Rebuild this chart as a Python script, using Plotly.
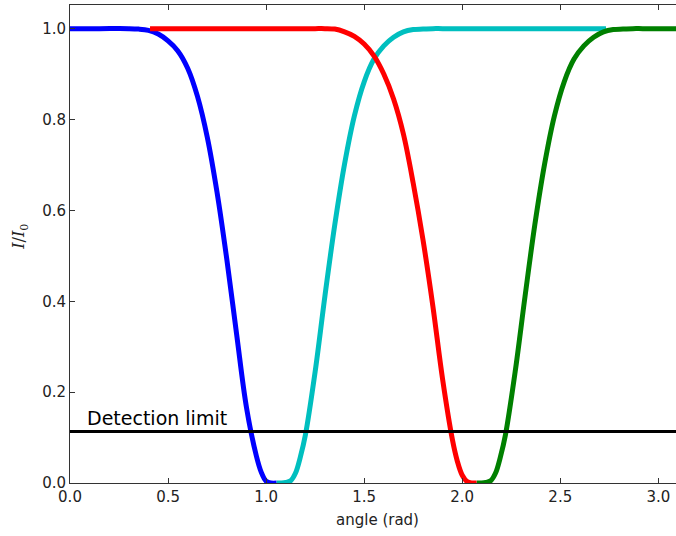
import plotly.graph_objects as go

# Transmitted intensity I/I0 versus analyser angle, four polariser settings
blue_x = [0.000, 0.150, 0.300, 0.350, 0.400, 0.450, 0.500, 0.550, 0.600, 0.650,
          0.700, 0.750, 0.800, 0.850, 0.900, 0.950, 0.975, 1.000, 1.025, 1.054]
blue_y = [1.000, 1.000, 1.000, 0.999, 0.996, 0.988, 0.973, 0.951, 0.913, 0.851,
          0.761, 0.639, 0.491, 0.326, 0.166, 0.060, 0.024, 0.004, 0.000, 0.000]

cyan_x = [1.054, 1.075, 1.100, 1.125, 1.150, 1.175, 1.200, 1.250, 1.300, 1.350,
          1.400, 1.450, 1.500, 1.550, 1.600, 1.650, 1.700, 1.750, 1.800, 1.850,
          1.900, 2.300, 2.733]
cyan_y = [0.000, 0.000, 0.001, 0.005, 0.022, 0.058, 0.105, 0.245, 0.412, 0.568,
          0.702, 0.808, 0.883, 0.933, 0.962, 0.981, 0.993, 0.998, 0.999, 1.000,
          1.000, 1.000, 1.000]

red_x = [0.408, 0.800, 1.200, 1.250, 1.300, 1.350, 1.400, 1.450, 1.500, 1.550,
         1.600, 1.650, 1.700, 1.750, 1.800, 1.850, 1.900, 1.950, 1.975, 2.000,
         2.025, 2.050, 2.074]
red_y = [1.000, 1.000, 1.000, 1.000, 1.000, 0.999, 0.993, 0.983, 0.966, 0.940,
         0.900, 0.845, 0.768, 0.660, 0.535, 0.390, 0.228, 0.095, 0.048, 0.017,
         0.003, 0.000, 0.000]

green_x = [2.074, 2.095, 2.120, 2.145, 2.170, 2.195, 2.220, 2.270, 2.320, 2.370,
           2.420, 2.470, 2.520, 2.570, 2.620, 2.670, 2.720, 2.770, 2.820, 2.870,
           2.920, 3.050, 3.1416]
green_y = [0.000, 0.000, 0.001, 0.005, 0.022, 0.058, 0.105, 0.245, 0.410, 0.568,
           0.702, 0.808, 0.883, 0.933, 0.962, 0.981, 0.993, 0.998, 0.999, 1.000,
           1.000, 1.000, 1.000]

detection_level = 0.1136
detection_x = [0.0, 3.1416]

x_ticks = [0.0, 0.5, 1.0, 1.5, 2.0, 2.5, 3.0]
y_ticks = [0.0, 0.2, 0.4, 0.6, 0.8, 1.0]

fig = go.Figure()

for xs, ys, col in [(blue_x, blue_y, "#0000ff"),
                    (cyan_x, cyan_y, "#00bfbf"),
                    (red_x, red_y, "#ff0000"),
                    (green_x, green_y, "#008000")]:
    fig.add_trace(go.Scatter(
        x=xs, y=ys, mode="lines",
        line=dict(color=col, width=5, shape="spline", smoothing=1.0),
        showlegend=False, hoverinfo="skip"))

fig.add_trace(go.Scatter(
    x=detection_x, y=[detection_level, detection_level], mode="lines",
    line=dict(color="black", width=3), showlegend=False, hoverinfo="skip"))

fig.add_annotation(
    x=0.078, y=detection_level, xref="x", yref="y",
    text="Detection limit", showarrow=False,
    xanchor="left", yanchor="bottom", yshift=0,
    font=dict(family="DejaVu Sans", size=19, color="black"))

# axis titles
fig.add_annotation(
    x=0.508, y=-0.077, xref="paper", yref="paper",
    text="angle (rad)", showarrow=False, xanchor="center", yanchor="middle",
    font=dict(family="DejaVu Sans", size=15, color="#222222"))
fig.add_annotation(
    x=-0.0825, y=0.515, xref="paper", yref="paper",
    text="<i>I</i>/<i>I</i><sub>0</sub>", showarrow=False, textangle=-90,
    xanchor="center", yanchor="middle",
    font=dict(family="DejaVu Serif", size=16, color="#222222"))

axis_common = dict(
    showgrid=False, zeroline=False, showline=True, linecolor="#333333",
    linewidth=1, ticks="inside", ticklen=5, tickwidth=1, tickcolor="#333333",
    tickfont=dict(family="DejaVu Sans", size=15, color="#222222"))

fig.update_xaxes(range=[0, 3.09], tickvals=x_ticks,
                 ticktext=[f"{v:.1f}" for v in x_ticks], mirror="ticks",
                 **axis_common)
fig.update_yaxes(range=[0, 1.052], tickvals=y_ticks,
                 ticktext=[f"{v:.1f}" for v in y_ticks], mirror=False,
                 **axis_common)

fig.update_layout(
    width=676, height=536,
    margin=dict(l=70, r=0, t=5, b=53),
    paper_bgcolor="white", plot_bgcolor="white",
)

fig.write_html("out.html")
